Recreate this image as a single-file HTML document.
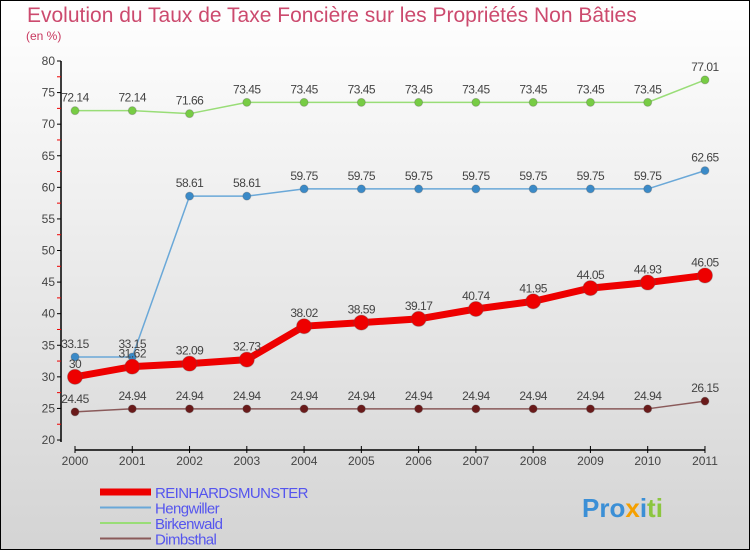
<!DOCTYPE html>
<html><head><meta charset="utf-8"><style>
body{margin:0;width:750px;height:550px;overflow:hidden}
svg{display:block;font-family:"Liberation Sans",sans-serif}
</style></head><body>
<svg width="750" height="550" xmlns="http://www.w3.org/2000/svg">
<defs><linearGradient id="bg" x1="0" y1="0" x2="0" y2="1"><stop offset="0" stop-color="#ffffff"/><stop offset="1" stop-color="#d4d4d4"/></linearGradient></defs>
<rect x="0.5" y="0.5" width="749" height="549" fill="url(#bg)" stroke="#000"/>
<text x="27" y="22" font-size="21" fill="#cc4a6e">Evolution du Taux de Taxe Foncière sur les Propriétés Non Bâties</text>
<text x="26" y="40" font-size="12" fill="#c8385f">(en %)</text>
<g id="axes"></g>
<g id="series"></g>
<g id="legend"></g>
<text x="582" y="517" font-size="26" font-weight="bold"><tspan fill="#3b8fd6">Pro</tspan><tspan fill="#f5a000">x</tspan><tspan fill="#3b8fd6">i</tspan><tspan fill="#8cc63f">ti</tspan></text>
</svg>
<script>
const years=["2000","2001","2002","2003","2004","2005","2006","2007","2008","2009","2010","2011"];
const yTicks=[20,25,30,35,40,45,50,55,60,65,70,75,80];
const reinhards=[30,31.62,32.09,32.73,38.02,38.59,39.17,40.74,41.95,44.05,44.93,46.05];
const hengwiller=[33.15,33.15,58.61,58.61,59.75,59.75,59.75,59.75,59.75,59.75,59.75,62.65];
const birkenwald=[72.14,72.14,71.66,73.45,73.45,73.45,73.45,73.45,73.45,73.45,73.45,77.01];
const dimbsthal=[24.45,24.94,24.94,24.94,24.94,24.94,24.94,24.94,24.94,24.94,24.94,26.15];
const NS="http://www.w3.org/2000/svg";
const X=i=>75+i*57.27, Y=v=>61+(80-v)*6.317;
function mk(t,a,p){const e=document.createElementNS(NS,t);for(const k in a)e.setAttribute(k,a[k]);(p||document.getElementById('series')).appendChild(e);return e;}
const ax=document.getElementById('axes');
let e=mk('line',{x1:61,y1:Y(80),x2:61,y2:Y(20)+2,stroke:'#000','stroke-width':1.5},ax);

yTicks.forEach(v=>{mk('line',{x1:57,x2:61,y1:Y(v),y2:Y(v),stroke:'#000'},ax);
 if(v<80)mk('line',{x1:57,x2:61,y1:Y(v+2.5),y2:Y(v+2.5),stroke:'#e00'},ax);
 const t=mk('text',{x:55,y:Y(v)+4,'text-anchor':'end','font-size':12,fill:'#444'},ax);t.textContent=v;
 });
e=mk('line',{x1:75,x2:705,y1:450,y2:450,stroke:'#000','stroke-width':1.5},ax);

years.forEach((y,i)=>{mk('line',{x1:X(i),x2:X(i),y1:446,y2:453,stroke:'#000'},ax);
 const t=mk('text',{x:X(i),y:465,'text-anchor':'middle','font-size':12,fill:'#444'},ax);t.textContent=y;
 });
function series(name,vals,color,w,r,dot){
 const g=mk('g',{});
 mk('polyline',{points:vals.map((v,i)=>X(i)+','+Y(v)).join(' '),fill:'none',stroke:color,'stroke-width':w,'stroke-linejoin':'round'},g);
 vals.forEach((v,i)=>{const c=mk('circle',{cx:X(i),cy:Y(v),r:r,fill:dot,stroke:'#555','stroke-opacity':0.3},g);
  
  const t=mk('text',{x:X(i),y:Y(v)-9,'text-anchor':'middle','font-size':12,fill:'#444','letter-spacing':'-0.5'},g);t.textContent=String(v);
  });
}
series('birkenwald',birkenwald,'#99dd77',1.5,4,'#77cc44');
series('hengwiller',hengwiller,'#6aa8d8',1.5,4,'#3a8ac8');
series('dimbsthal',dimbsthal,'#8a5a5a',1.5,4,'#6a1a1a');
series('reinhardsmunster',reinhards,'#ee0000',7,7.5,'#ee0000');
const lg=document.getElementById('legend');
[["REINHARDSMUNSTER","#ee0000",7],["Hengwiller","#6aa8d8",2],["Birkenwald","#99dd77",2],["Dimbsthal","#8a5a5a",2]].forEach((s,i)=>{
 const y=492+i*15.5;
 const l=mk('line',{x1:100,x2:151,y1:y,y2:y,stroke:s[1],'stroke-width':s[2]},lg);
 
 const t=mk('text',{x:155,y:y+6,'font-size':15,fill:'#5555ee','letter-spacing':'-0.6'},lg);t.textContent=s[0];
 });
</script>
</body></html>
